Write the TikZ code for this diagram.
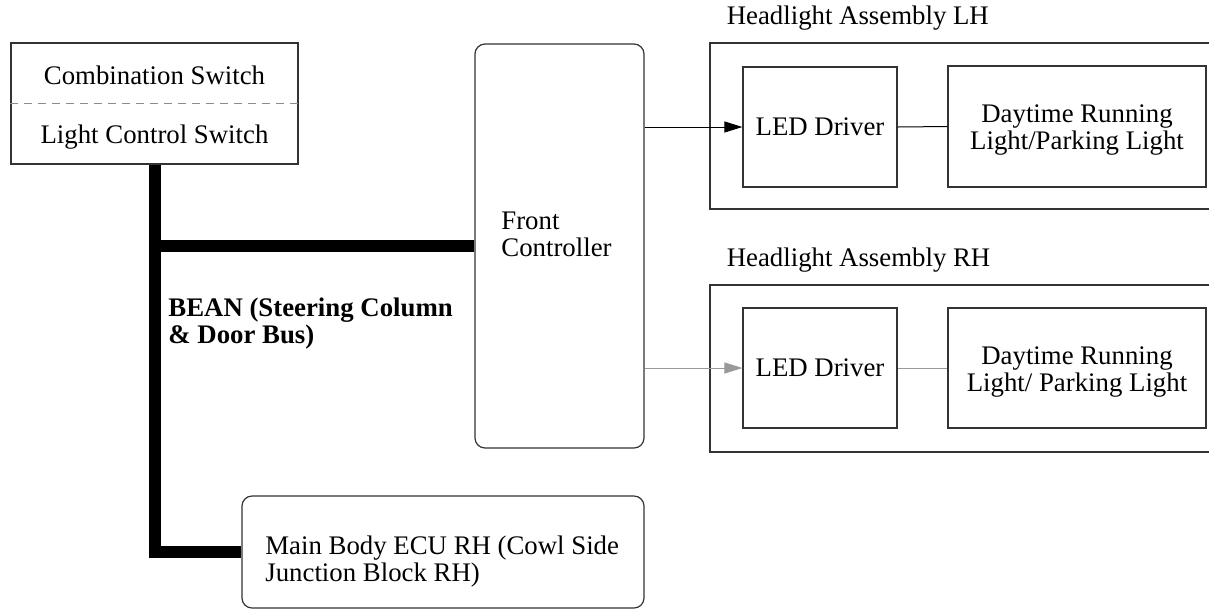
\documentclass[tikz,border=0pt]{standalone}
\usepackage{fontspec}
\setmainfont{LiberationSerif}[Extension=.ttf, UprightFont=*-Regular, BoldFont=*-Bold]
\usepackage{tikz}
\usetikzlibrary{arrows.meta, positioning}
\usepackage{xcolor}

\newcommand{\diagfont}{\fontsize{13.4pt}{13.5pt}\selectfont}

\begin{document}
\begin{tikzpicture}[
    x=0.5pt, y=-0.5pt,
    every node/.style={font=\diagfont},
    box/.style={draw=black!80, line width=0.6pt, inner sep=0pt},
    rbox/.style={box, rounded corners=5pt},
    lbl/.style={inner sep=0pt},
    bus/.style={draw, line width=6pt},
    sig/.style={draw, line width=0.5pt, -{Triangle[length=9pt, width=5.5pt]}},
  ]
  \useasboundingbox (0,0) rectangle (1209,612);

  % switch
  \node[box, minimum width=143.5pt, minimum height=60.5pt] (sw) at (154.5,103.5) {};
  \node[lbl] (comb) at (154.5,75) {Combination Switch};
  \node[lbl] (lcs) at (154.5,137) {Light Control Switch};
  \draw[black!45, dashed, dash pattern=on 4pt off 3pt, line width=0.5pt] (sw.west) -- (sw.east);

  % controllers
  \node[rbox, minimum width=84.5pt, minimum height=202pt] (front) at (559.5,246) {};
  \node[lbl, align=left, anchor=west] (frontT) at (501,234) {Front\\Controller};
  \node[rbox, minimum width=201pt, minimum height=56pt] (ecu) at (443,552) {};
  \node[lbl, align=left, anchor=west] (ecuT) at (265,562) {Main Body ECU RH (Cowl Side\\Junction Block RH)};

  % headlight assemblies
  \node[box, minimum width=265pt, minimum height=83pt] (lhA) at (975,126) {};
  \node[lbl, anchor=south west, above right=6pt and 8.5pt of lhA.north west] {Headlight Assembly LH};
  \node[box, minimum width=77pt, minimum height=60pt] (ledL) at (820,127) {LED Driver};
  \node[box, minimum width=129pt, minimum height=60.5pt] (drlL) at (1077,126.5) {};
  \node[lbl, align=center] (drlLT) at ([yshift=-2pt]drlL.center) {Daytime Running\\Light/Parking Light};

  \node[box, minimum width=265pt, minimum height=83.5pt] (rhA) at (975,368.5) {};
  \node[lbl, anchor=south west, above right=6pt and 8.5pt of rhA.north west] {Headlight Assembly RH};
  \node[box, minimum width=77pt, minimum height=60pt] (ledR) at (820,368) {LED Driver};
  \node[box, minimum width=129pt, minimum height=60pt] (drlR) at (1077,368) {};
  \node[lbl, align=center] (drlRT) at ([yshift=-2pt]drlR.center) {Daytime Running\\Light/ Parking Light};

  % BEAN bus
  \draw[bus] (sw.south) -- (sw.south |- ecu.west) -- (ecu.west);
  \draw[bus] (sw.south |- front.west) -- (front.west);
  \node[lbl, align=left, anchor=west, font=\diagfont\bfseries] (bean) at (168,324) {BEAN (Steering Column\\\& Door Bus)};

  % signals
  \draw[sig] (front.east |- ledL.west) -- (ledL.west);
  \draw[line width=0.5pt] (ledL.east) -- (drlL.west);
  \draw[sig, draw=black!40] (front.east |- ledR.west) -- (ledR.west);
  \draw[line width=0.5pt, black!40] (ledR.east) -- (drlR.west);
\end{tikzpicture}
\end{document}
